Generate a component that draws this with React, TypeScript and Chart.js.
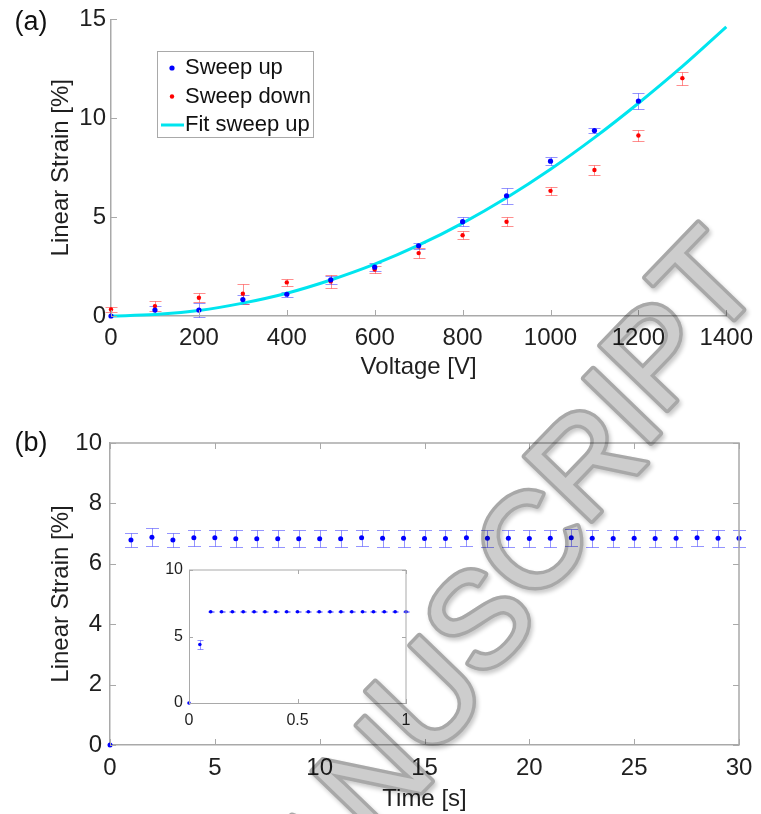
import React, { useEffect, useRef } from 'react';
import { Chart, registerables } from 'chart.js';

Chart.register(...registerables);

const FAMILY = '"Liberation Sans", Arial, Helvetica, sans-serif';
const TEXT = '#1f1f1f';
const AXIS = '#a9a9a9';

// ---------- Panel (a): linear strain vs voltage ----------
const voltageUp = [0, 100, 200, 300, 400, 500, 600, 700, 800, 900, 1000, 1100, 1200];
const strainUp = [0, 0.3, 0.3, 0.83, 1.1, 1.83, 2.47, 3.55, 4.77, 6.08, 7.83, 9.38, 10.87];
const errUp = [0, 0.2, 0.37, 0.22, 0.12, 0.2, 0.2, 0.15, 0.24, 0.41, 0.21, 0.13, 0.4];

const voltageDown = [0, 100, 200, 300, 400, 500, 600, 700, 800, 900, 1000, 1100, 1200, 1300];
const strainDown = [0.33, 0.5, 0.92, 1.13, 1.7, 1.75, 2.35, 3.18, 4.08, 4.77, 6.33, 7.38, 9.13, 12.03];
const errDown = [0.13, 0.25, 0.23, 0.5, 0.19, 0.31, 0.2, 0.25, 0.21, 0.24, 0.19, 0.25, 0.3, 0.33];

const fitVoltage = [0, 100, 200, 300, 400, 500, 600, 700, 800, 900, 1000, 1100, 1200, 1300, 1400];
const fitStrain = [0, 0.07, 0.28, 0.65, 1.15, 1.82, 2.62, 3.58, 4.7, 5.98, 7.42, 9.02, 10.76, 12.62, 14.62];

const voltageTicks = [0, 200, 400, 600, 800, 1000, 1200, 1400];
const strainTicksA = [0, 5, 10, 15];
const seriesLabels = ['Sweep up', 'Sweep down', 'Fit sweep up'];

// ---------- Panel (b): linear strain vs time ----------
const timeMain = [0, 1, 2, 3, 4, 5, 6, 7, 8, 9, 10, 11, 12, 13, 14, 15, 16, 17, 18, 19, 20, 21, 22, 23, 24, 25, 26, 27, 28, 29, 30];
const strainMain = [0, 6.79, 6.88, 6.79, 6.86, 6.86, 6.83, 6.83, 6.83, 6.83, 6.83, 6.83, 6.86, 6.85, 6.85, 6.84, 6.84, 6.86, 6.85, 6.85, 6.84, 6.85, 6.86, 6.85, 6.84, 6.85, 6.84, 6.85, 6.86, 6.85, 6.85];
const errMain = [0, 0.22, 0.29, 0.22, 0.27, 0.27, 0.28, 0.28, 0.28, 0.28, 0.28, 0.28, 0.27, 0.28, 0.28, 0.28, 0.28, 0.27, 0.28, 0.28, 0.28, 0.28, 0.28, 0.28, 0.28, 0.28, 0.28, 0.28, 0.27, 0.28, 0.28];
const timeTicks = [0, 5, 10, 15, 20, 25, 30];
const strainTicksB = [0, 2, 4, 6, 8, 10];

// ---------- Inset of (b) ----------
const timeInset = [0, 0.05, 0.1, 0.15, 0.2, 0.25, 0.3, 0.35, 0.4, 0.45, 0.5, 0.55, 0.6, 0.65, 0.7, 0.75, 0.8, 0.85, 0.9, 0.95, 1.0];
const strainInset = [0, 4.4, 6.86, 6.86, 6.86, 6.86, 6.86, 6.86, 6.86, 6.86, 6.86, 6.86, 6.86, 6.86, 6.86, 6.86, 6.86, 6.86, 6.86, 6.86, 6.86];
const errInset = [0, 0.35, 0.05, 0.05, 0.05, 0.05, 0.05, 0.05, 0.05, 0.05, 0.05, 0.05, 0.05, 0.05, 0.05, 0.05, 0.05, 0.05, 0.05, 0.05, 0.05];
const timeTicksInset = [0, 0.5, 1];
const strainTicksInset = [0, 5, 10];

const WATERMARK = 'MANUSCRIPT';

const pts = (xs: number[], ys: number[]) => xs.map((x, i) => ({ x, y: ys[i] }));

// ---------- plugins ----------
const errorBars = {
  id: 'errorBars',
  beforeDatasetsDraw(chart: any) {
    const { ctx } = chart;
    const xs = chart.scales.x;
    const ys = chart.scales.y;
    chart.data.datasets.forEach((ds: any, di: number) => {
      if (!ds.errors || !chart.isDatasetVisible(di)) return;
      ctx.save();
      ctx.strokeStyle = ds.errorColor;
      ctx.lineWidth = 1;
      ctx.beginPath();
      ds.data.forEach((p: any, i: number) => {
        const e = ds.errors[i];
        if (!e) return;
        const x = Math.round(xs.getPixelForValue(p.x)) + 0.5;
        const y1 = Math.round(ys.getPixelForValue(p.y + e)) + 0.5;
        const y2 = Math.round(ys.getPixelForValue(p.y - e)) + 0.5;
        const c = ds.errorCap;
        ctx.moveTo(x, y1); ctx.lineTo(x, y2);
        ctx.moveTo(x - c, y1); ctx.lineTo(x + c, y1);
        ctx.moveTo(x - c, y2); ctx.lineTo(x + c, y2);
      });
      ctx.stroke();
      ctx.restore();
    });
  },
};

const matlabAxes = {
  id: 'matlabAxes',
  afterDatasetsDraw(chart: any, _args: any, o: any) {
    const { ctx, chartArea: a } = chart;
    const xs = chart.scales.x;
    const ys = chart.scales.y;
    ctx.save();
    ctx.strokeStyle = o.color;
    ctx.lineWidth = 1;
    ctx.beginPath();
    xs.ticks.forEach((t: any) => {
      const px = Math.round(xs.getPixelForValue(t.value)) + 0.5;
      ctx.moveTo(px, a.bottom); ctx.lineTo(px, a.bottom - o.len);
      if (o.box) { ctx.moveTo(px, a.top); ctx.lineTo(px, a.top + o.len); }
    });
    ys.ticks.forEach((t: any) => {
      const py = Math.round(ys.getPixelForValue(t.value)) + 0.5;
      ctx.moveTo(a.left, py); ctx.lineTo(a.left + o.len, py);
      if (o.box) { ctx.moveTo(a.right, py); ctx.lineTo(a.right - o.len, py); }
    });
    ctx.stroke();
    if (o.box) {
      ctx.lineWidth = o.width;
      ctx.beginPath();
      ctx.moveTo(a.left, a.top); ctx.lineTo(a.right, a.top); ctx.lineTo(a.right, a.bottom);
      ctx.stroke();
    }
    ctx.restore();
  },
};

const boxLegend = {
  id: 'boxLegend',
  afterDraw(chart: any, _args: any, o: any) {
    if (!o || !o.show) return;
    const { ctx } = chart;
    ctx.save();
    ctx.fillStyle = '#ffffff';
    ctx.fillRect(o.x, o.y, o.w, o.h);
    ctx.strokeStyle = AXIS;
    ctx.lineWidth = 1;
    ctx.strokeRect(o.x + 0.5, o.y + 0.5, o.w, o.h);
    ctx.font = `${o.size}px ${FAMILY}`;
    ctx.textBaseline = 'middle';
    ctx.textAlign = 'left';
    chart.data.datasets.forEach((ds: any, i: number) => {
      const cy = o.y + o.rowTop + i * o.rowH;
      if (ds.showLine) {
        ctx.strokeStyle = ds.borderColor;
        ctx.lineWidth = ds.borderWidth;
        ctx.beginPath();
        ctx.moveTo(o.lineX0, cy); ctx.lineTo(o.lineX1, cy);
        ctx.stroke();
      } else {
        ctx.fillStyle = ds.pointBackgroundColor;
        ctx.beginPath();
        ctx.arc(o.markX, cy, ds.pointRadius, 0, Math.PI * 2);
        ctx.fill();
      }
      ctx.fillStyle = '#111';
      ctx.fillText(ds.label, o.textX, cy);
    });
    ctx.restore();
  },
};

const panelLabel = {
  id: 'panelLabel',
  afterDraw(chart: any, _args: any, o: any) {
    if (!o || !o.text) return;
    const { ctx } = chart;
    ctx.save();
    ctx.font = `${o.size}px ${FAMILY}`;
    ctx.fillStyle = '#111';
    ctx.textAlign = 'center';
    ctx.textBaseline = 'middle';
    ctx.fillText(o.text, o.x, o.y);
    ctx.restore();
  },
};

function makeScale(cfg: any) {
  return {
    type: 'linear',
    min: cfg.min,
    max: cfg.max,
    afterBuildTicks: (s: any) => { s.ticks = cfg.ticks.map((v: number) => ({ value: v })); },
    afterFit: (s: any) => {
      if (cfg.axis === 'x') s.height = cfg.size; else s.width = cfg.size;
    },
    ticks: {
      autoSkip: false,
      maxRotation: 0,
      padding: cfg.pad,
      color: TEXT,
      font: { family: FAMILY, size: cfg.font, lineHeight: 1.2 },
      callback: (v: any) => String(v),
    },
    grid: { display: false, drawTicks: false },
    border: { display: true, color: AXIS, width: cfg.borderWidth ?? 1.5 },
    title: cfg.title
      ? {
          display: true,
          text: cfg.title,
          color: TEXT,
          font: { family: FAMILY, size: 24, lineHeight: 1.2 },
          padding: cfg.titlePad,
        }
      : { display: false },
  };
}

const baseOptions = (padding: any, scales: any, plugins: any) => ({
  responsive: false,
  animation: false,
  events: [],
  layout: { padding },
  scales,
  plugins: { legend: { display: false }, tooltip: { enabled: false }, ...plugins },
});

// Decorative "accepted manuscript" watermark laid over the figure
function drawWatermark(c: HTMLCanvasElement) {
  const ctx = c.getContext('2d');
  if (!ctx) return;
  ctx.clearRect(0, 0, c.width, c.height);
  const size = 134;
  const pathAngle = (-56 * Math.PI) / 180;
  const glyphAngle = (-46 * Math.PI) / 180;
  const ox = 487;
  const oy = 622;
  ctx.font = `${size}px ${FAMILY}`;
  const total = ctx.measureText(WATERMARK).width;
  let s = -total / 2;
  for (const ch of WATERMARK) {
    const w = ctx.measureText(ch).width;
    const along = s + w / 2;
    s += w;
    const cx = ox + along * Math.cos(pathAngle);
    const cy = oy + along * Math.sin(pathAngle);
    ctx.save();
    ctx.translate(cx, cy);
    ctx.rotate(glyphAngle);
    ctx.font = `${size}px ${FAMILY}`;
    ctx.textAlign = 'center';
    ctx.textBaseline = 'middle';
    ctx.lineJoin = 'round';
    ctx.shadowColor = 'rgba(0,0,0,0.22)';
    ctx.shadowBlur = 4;
    ctx.shadowOffsetX = 2;
    ctx.shadowOffsetY = 3;
    ctx.lineWidth = 7;
    ctx.strokeStyle = '#a8a8a8';
    ctx.strokeText(ch, 0, 0);
    ctx.shadowColor = 'transparent';
    ctx.fillStyle = '#cdcdcd';
    ctx.fillText(ch, 0, 0);
    ctx.restore();
  }
}

export default function App() {
  const refA = useRef<HTMLCanvasElement>(null);
  const refB = useRef<HTMLCanvasElement>(null);
  const refI = useRef<HTMLCanvasElement>(null);
  const refW = useRef<HTMLCanvasElement>(null);

  useEffect(() => {
    const charts: Chart[] = [];

    // Panel (a)
    charts.push(
      new Chart(refA.current as HTMLCanvasElement, {
        type: 'scatter',
        data: {
          datasets: [
            {
              label: seriesLabels[0],
              data: pts(voltageUp, strainUp),
              errors: errUp,
              errorColor: 'rgba(60,60,255,0.55)',
              errorCap: 6,
              pointRadius: 2.6,
              pointBackgroundColor: '#0000ff',
              pointBorderWidth: 0,
              showLine: false,
              clip: false,
            },
            {
              label: seriesLabels[1],
              data: pts(voltageDown, strainDown),
              errors: errDown,
              errorColor: 'rgba(255,50,50,0.55)',
              errorCap: 6,
              pointRadius: 2.2,
              pointBackgroundColor: '#ff0000',
              pointBorderWidth: 0,
              showLine: false,
              clip: false,
            },
            {
              label: seriesLabels[2],
              data: pts(fitVoltage, fitStrain),
              showLine: true,
              borderColor: '#00e5ef',
              borderWidth: 3,
              pointRadius: 0,
              cubicInterpolationMode: 'monotone',
              clip: false,
            },
          ] as any,
        },
        options: baseOptions(
          { left: 0, top: 17, right: 28, bottom: 0 },
          {
            x: makeScale({ axis: 'x', min: 0, max: 1400, ticks: voltageTicks, size: 84, pad: 8, font: 24, title: 'Voltage [V]', titlePad: { top: 0, bottom: 18 } }),
            y: makeScale({ axis: 'y', min: 0, max: 15, ticks: strainTicksA, size: 111, pad: 5, font: 24, title: 'Linear Strain [%]', titlePad: { top: 47, bottom: 0 } }),
          },
          {
            matlabAxes: { color: AXIS, width: 1.5, len: 6, box: false },
            boxLegend: { show: true, x: 157, y: 51, w: 156, h: 86, rowTop: 17, rowH: 28.5, size: 22, markX: 172, lineX0: 161, lineX1: 184, textX: 185 },
            panelLabel: { text: '(a)', x: 31, y: 23, size: 27 },
          }
        ) as any,
        plugins: [errorBars, matlabAxes, boxLegend, panelLabel],
      })
    );

    // Panel (b)
    charts.push(
      new Chart(refB.current as HTMLCanvasElement, {
        type: 'scatter',
        data: {
          datasets: [
            {
              label: 'Strain vs time',
              data: pts(timeMain, strainMain),
              errors: errMain,
              errorColor: 'rgba(60,60,255,0.55)',
              errorCap: 6.5,
              pointRadius: 2.5,
              pointBackgroundColor: '#0000ff',
              pointBorderWidth: 0,
              showLine: false,
              clip: false,
            },
          ] as any,
        },
        options: baseOptions(
          { left: 0, top: 43, right: 22, bottom: 0 },
          {
            x: makeScale({ axis: 'x', min: 0, max: 30, ticks: timeTicks, size: 69, pad: 8.5, font: 24, title: 'Time [s]', titlePad: { top: 0, bottom: 0 } }),
            y: makeScale({ axis: 'y', min: 0, max: 10, ticks: strainTicksB, size: 110, pad: 8, font: 24, title: 'Linear Strain [%]', titlePad: { top: 47, bottom: 0 } }),
          },
          {
            matlabAxes: { color: AXIS, width: 1.5, len: 6, box: true },
            panelLabel: { text: '(b)', x: 31, y: 44, size: 27 },
          }
        ) as any,
        plugins: [errorBars, matlabAxes, panelLabel],
      })
    );

    // Inset
    charts.push(
      new Chart(refI.current as HTMLCanvasElement, {
        type: 'scatter',
        data: {
          datasets: [
            {
              label: 'Strain vs time (first second)',
              data: pts(timeInset, strainInset),
              errors: errInset,
              errorColor: 'rgba(60,60,255,0.55)',
              errorCap: 3,
              pointRadius: 1.8,
              pointBackgroundColor: '#0000ff',
              pointBorderWidth: 0,
              showLine: false,
              clip: false,
            },
          ] as any,
        },
        options: baseOptions(
          { left: 0, top: 20, right: 34, bottom: 0 },
          {
            x: makeScale({ axis: 'x', min: 0, max: 1, ticks: timeTicksInset, size: 37, pad: 7.5, font: 16, borderWidth: 1 }),
            y: makeScale({ axis: 'y', min: 0, max: 10, ticks: strainTicksInset, size: 49, pad: 6, font: 16, borderWidth: 1 }),
          },
          {
            matlabAxes: { color: AXIS, width: 1, len: 4, box: true },
          }
        ) as any,
        plugins: [errorBars, matlabAxes],
      })
    );

    if (refW.current) drawWatermark(refW.current);

    return () => charts.forEach((c) => c.destroy());
  }, []);

  const abs = (l: number, t: number, w: number, h: number): React.CSSProperties => ({
    position: 'absolute', left: l, top: t, width: w, height: h, display: 'block',
  });

  return (
    <div style={{ position: 'absolute', left: 0, top: 0, width: 761, height: 814, background: '#ffffff', overflow: 'hidden' }}>
      <canvas ref={refA} width={761} height={400} style={abs(0, 0, 761, 400)} />
      <canvas ref={refB} width={761} height={414} style={abs(0, 400, 761, 414)} />
      <canvas ref={refI} width={300} height={190} style={abs(140, 550, 300, 190)} />
      <canvas
        ref={refW}
        width={761}
        height={814}
        style={{ ...abs(0, 0, 761, 814), pointerEvents: 'none', mixBlendMode: 'multiply' }}
      />
    </div>
  );
}
